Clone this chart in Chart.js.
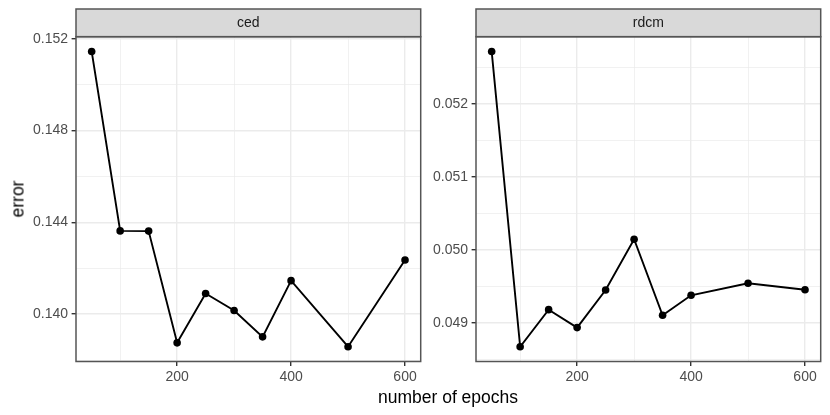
<!DOCTYPE html>
<html>
<head>
<meta charset="utf-8">
<script src="https://cdn.jsdelivr.net/npm/chart.js@4/dist/chart.umd.min.js"></script>
<style>
  body { margin: 0; background: #fff; width: 830px; height: 415px; overflow: hidden; position: relative; font-family: "Liberation Sans", Arial, sans-serif; }
  canvas { position: absolute; top: 0; }
  #c1 { left: 0; }
  #c2 { left: 430px; }
  .title { position: absolute; color: #000; font-size: 17.5px; white-space: nowrap; }
  #xTitle { left: 448px; top: 396.5px; transform: translate(-50%, -50%); }
  #yTitle { left: 18px; top: 199px; transform: translate(-50%, -50%) rotate(-90deg); }
</style>
</head>
<body>
<canvas id="c1" width="430" height="415"></canvas>
<canvas id="c2" width="400" height="415"></canvas>
<div class="title" id="xTitle">number of epochs</div>
<div class="title" id="yTitle">error</div>
<script>
// data
const epochs = [50, 100, 150, 200, 250, 300, 350, 400, 500, 600];
const cedError = [0.15145, 0.14363, 0.14362, 0.13875, 0.14090, 0.14016, 0.13901, 0.14146, 0.13858, 0.14236];
const rdcmError = [0.052715, 0.04867, 0.049178, 0.048932, 0.049447, 0.050142, 0.049101, 0.049375, 0.049539, 0.049451];

const panelNames = ["ced", "rdcm"];
const xMajor = [200, 400, 600];
const xMinor = [100, 300, 500];
const cedMajor = [0.140, 0.144, 0.148, 0.152];
const cedMinor = [0.138, 0.142, 0.146, 0.150];
const rdcmMajor = [0.049, 0.050, 0.051, 0.052];
const rdcmMinor = [0.0485, 0.0495, 0.0505, 0.0515, 0.0525];

const FONT = "'Liberation Sans', Arial, sans-serif";

function expand(arr) {
    const lo = Math.min(...arr), hi = Math.max(...arr);
    const pad = (hi - lo) * 0.05;
    return [lo - pad, hi + pad];
}

function isMajor(list, v) {
    return list.some(m => Math.abs(m - v) < 1e-9);
}

// panel border + strip on top
const panelDeco = {
    id: "panelDeco",
    afterDraw(chart, args, opts) {
        const { ctx, chartArea: a } = chart;
        ctx.save();
        // strip
        ctx.fillStyle = "#D9D9D9";
        ctx.fillRect(a.left, 9, a.right - a.left, a.top - 9);
        ctx.strokeStyle = "#555555";
        ctx.lineWidth = 1.5;
        ctx.strokeRect(a.left, 9, a.right - a.left, a.top - 9);
        ctx.fillStyle = "#1A1A1A";
        ctx.font = "14px " + FONT;
        ctx.textAlign = "center";
        ctx.textBaseline = "middle";
        ctx.fillText(opts.name, (a.left + a.right) / 2, (9 + a.top) / 2 + 0.5);
        // panel border
        ctx.strokeRect(a.left, a.top, a.right - a.left, a.bottom - a.top);
        ctx.restore();
    }
};

function makePanel(id, name, values, yMajor, yMinor, yAxisWidth, digits) {
    const yr = expand(values);
    const xr = expand(epochs);
    const xTicks = [...xMinor, ...xMajor].sort((a, b) => a - b);
    const yTicks = [...yMinor, ...yMajor].sort((a, b) => a - b);
    return new Chart(document.getElementById(id), {
        type: "scatter",
        data: {
            datasets: [{
                data: epochs.map((e, i) => ({ x: e, y: values[i] })),
                showLine: true,
                borderColor: "#000",
                borderWidth: 1.9,
                backgroundColor: "#000",
                pointRadius: 3.8,
                pointHoverRadius: 3.8,
                pointBorderWidth: 0,
                tension: 0
            }]
        },
        plugins: [panelDeco],
        options: {
            responsive: false,
            animation: false,
            layout: { padding: { top: 36.7, right: 9.3, left: 0, bottom: 0 } },
            plugins: {
                legend: { display: false },
                tooltip: { enabled: false },
                panelDeco: { name: name }
            },
            scales: {
                x: {
                    type: "linear",
                    min: xr[0],
                    max: xr[1],
                    afterBuildTicks: s => { s.ticks = xTicks.map(v => ({ value: v })); },
                    afterFit: s => { s.height = 53.5; },
                    border: { display: false },
                    grid: {
                        color: "#EBEBEB",
                        lineWidth: c => isMajor(xMajor, c.tick.value) ? 1.4 : 0.7,
                        tickColor: c => isMajor(xMajor, c.tick.value) ? "#333333" : "rgba(0,0,0,0)",
                        tickWidth: 1.4,
                        tickLength: 4.4
                    },
                    ticks: {
                        autoSkip: false,
                        maxRotation: 0,
                        padding: 2.5,
                        color: "#4D4D4D",
                        font: { family: FONT, size: 14 },
                        callback: v => isMajor(xMajor, v) ? String(v) : ""
                    }
                },
                y: {
                    type: "linear",
                    min: yr[0],
                    max: yr[1],
                    afterBuildTicks: s => { s.ticks = yTicks.map(v => ({ value: v })); },
                    afterFit: s => { s.width = yAxisWidth; },
                    border: { display: false },
                    grid: {
                        color: "#EBEBEB",
                        lineWidth: c => isMajor(yMajor, c.tick.value) ? 1.4 : 0.7,
                        tickColor: c => isMajor(yMajor, c.tick.value) ? "#333333" : "rgba(0,0,0,0)",
                        tickWidth: 1.4,
                        tickLength: 4.4
                    },
                    ticks: {
                        autoSkip: false,
                        padding: 3.5,
                        color: "#4D4D4D",
                        font: { family: FONT, size: 14 },
                        callback: v => isMajor(yMajor, v) ? v.toFixed(digits) : ""
                    }
                }
            }
        }
    });
}

makePanel("c1", panelNames[0], cedError, cedMajor, cedMinor, 76, 3);
makePanel("c2", panelNames[1], rdcmError, rdcmMajor, rdcmMinor, 46, 3);
</script>
</body>
</html>
